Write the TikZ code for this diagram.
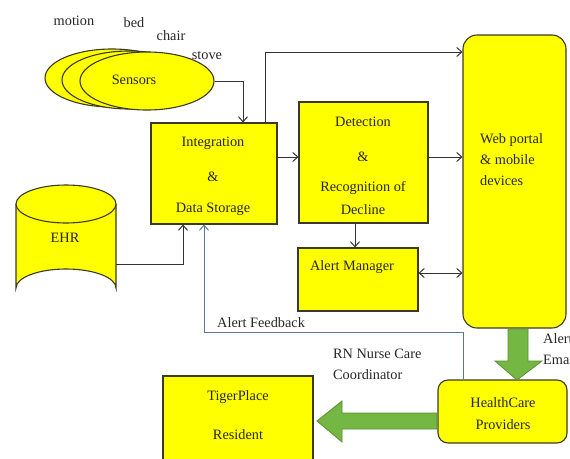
\documentclass[tikz,border=0pt]{standalone}
\usepackage{fontspec}
\setmainfont{Liberation Serif}
\usetikzlibrary{shapes.geometric,arrows.meta}
\definecolor{yel}{HTML}{FFFF00}
\definecolor{boxline}{HTML}{3A3A22}
\definecolor{arrc}{HTML}{333333}
\definecolor{fbc}{HTML}{5F7890}
\definecolor{grn}{HTML}{74B843}
\definecolor{grnline}{HTML}{5C8E35}
\newcommand{\fsz}{\fontsize{14.3}{21}\selectfont}
\tikzset{
  box/.style={draw=boxline, fill=yel, line width=1.1pt, inner sep=0pt, rectangle},
  rbox/.style={box, rounded corners=14pt},
  txt/.style={font=\fsz, inner sep=0pt, text=black!85},
  arr/.style={draw=arrc, line width=1pt, -{Straight Barb[length=5pt,width=9pt]}},
  darr/.style={draw=arrc, line width=1pt, {Straight Barb[length=5pt,width=9pt]}-{Straight Barb[length=5pt,width=9pt]}},
  fb/.style={draw=fbc, line width=1pt, -{Straight Barb[length=5pt,width=9pt]}},
  garrow/.style={fill=grn, draw=grnline, line width=0.8pt, line join=miter},
}
\begin{document}
\begin{tikzpicture}[x=1pt,y=-1pt]
\useasboundingbox (0,0) rectangle (570,458);
\clip (0,0) rectangle (570,458);
% sensors
\node[ellipse, draw=boxline, fill=yel, line width=1.1pt, minimum width=134pt, minimum height=58pt] (s1) at (112,78) {};
\node[ellipse, draw=boxline, fill=yel, line width=1.1pt, minimum width=134pt, minimum height=58pt] (s2) at (129,80) {};
\node[ellipse, draw=boxline, fill=yel, line width=1.1pt, minimum width=134pt, minimum height=58pt] (s3) at (147,81) {};
\node[txt] (sens) at (134,80) {Sensors};
\node[txt] (lmotion) at (74,21) {motion};
\node[txt] (lbed) at (134,23) {bed};
\node[txt] (lchair) at (171,36) {chair};
\node[txt] (lstove) at (207,56) {stove};
% EHR cylinder
\fill[yel] (16,204) -- (16,288) arc[start angle=180, end angle=360, x radius=50, y radius=19] -- (116,204) -- cycle;
\draw[boxline, line width=1.1pt] (16,204) -- (16,288) arc[start angle=180, end angle=360, x radius=50, y radius=19] -- (116,204);
\draw[boxline, line width=1.1pt, fill=yel] (66,204) ellipse[x radius=50, y radius=19];
\node[inner sep=0pt, minimum width=100pt, minimum height=122pt] (ehr) at (66,246) {};
\node[txt] (ehrt) at (65,238) {EHR};
% boxes
\node[box, minimum width=126pt, minimum height=101pt] (integ) at (214,173.5) {};
\node[txt] at (213,143) {Integration};
\node[txt] at (213,177) {\&};
\node[txt] at (213,209) {Data Storage};
\node[box, minimum width=129pt, minimum height=121pt] (det) at (363.5,162.5) {};
\node[txt] at (363,122) {Detection};
\node[txt] at (363,157) {\&};
\node[txt] at (363,188) {Recognition of};
\node[txt] at (363,210) {Decline};
\node[box, minimum width=120pt, minimum height=63pt] (am) at (358,279.5) {};
\node[txt] at (352,267) {Alert Manager};
\node[rbox, minimum width=103pt, minimum height=293pt] (web) at (514.5,181.5) {};
\node[txt, anchor=north west, align=left] at (480,133) {Web portal\\\& mobile\\devices};
\node[rbox, rounded corners=10pt, minimum width=129pt, minimum height=63pt] (hc) at (502.5,411.5) {};
\node[txt] at (503,403) {HealthCare};
\node[txt] at (503,425) {Providers};
\node[box, minimum width=150pt, minimum height=94pt] (tp) at (238,423) {};
\node[txt] at (238,397) {TigerPlace};
\node[txt] at (238,435) {Resident};
% connectors
\draw[arr] (s3.east) -| (integ.north -| 243,0);
\draw[arr] (integ.north -| 265,0) |- (web.west |- 0,52);
\draw[arr] (integ.east |- 0,157) -- (det.west |- 0,157);
\draw[arr] (det.east |- 0,157) -- (web.west |- 0,157);
\draw[arr] (det.south -| 355,0) -- (am.north -| 355,0);
\draw[darr] (am.east |- 0,273) -- (web.west |- 0,273);
\draw[arr] (ehr.east |- 0,264) -| (integ.south -| 183,0);
\coordinate (fbk) at (204,332);
\draw[fb] (hc.north -| 463,0) |- (fbk) -- (integ.south -| fbk);
\node[txt, anchor=west] (fbl) at (217,323) {Alert Feedback};
% green arrows
\draw[garrow] (508,329) -- (528,329) -- (528,361) -- (542,361) -- (517,380) -- (495,361) -- (508,361) -- cycle;
\draw[garrow] (437,413) -- (342,413) -- (342,401) -- (317,421) -- (342,442) -- (342,429) -- (437,429) -- cycle;
\node[txt, anchor=west] (ae1) at (543,339) {Alert};
\node[txt, anchor=west] (ae2) at (543,360) {Email};
\node[txt, anchor=north west, align=left] (rn) at (333,349) {RN Nurse Care\\Coordinator};
\end{tikzpicture}
\end{document}
